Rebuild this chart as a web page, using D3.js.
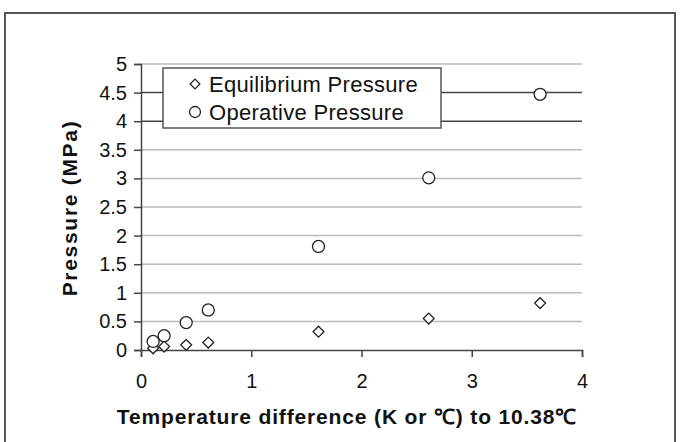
<!DOCTYPE html>
<html lang="en">
<head>
    <meta charset="UTF-8">
    <title>pressure scatter</title>
    <script src="https://d3js.org/d3.v7.min.js"></script>
    <style>
        body{ margin:0; background:#fff; }
        text{ font-family: "Liberation Sans", Arial, sans-serif; fill:#111; }
    </style>
</head>
<body>
<svg width="680" height="442" id="main"></svg>

<script>
    // temperature difference to 10.38 C
    let temp_diff = [0.11, 0.21, 0.41, 0.61, 1.61, 2.61, 3.62]
    let equilibrium = [0.03, 0.06, 0.09, 0.13, 0.32, 0.55, 0.82]
    let operative = [0.15, 0.25, 0.48, 0.70, 1.81, 3.01, 4.47]
    let series_names = ["Equilibrium Pressure", "Operative Pressure"]
    let x_ticks = [0, 1, 2, 3, 4]
    let y_ticks = [0, 0.5, 1, 1.5, 2, 2.5, 3, 3.5, 4, 4.5, 5]

    let svg = d3.select("#main")

    // outer frame, open at the bottom
    svg.append("path")
        .attr("d", "M5,445 L5,13 L675,13 L675,445")
        .attr("fill", "none")
        .attr("stroke", "#555")
        .attr("stroke-width", 2)

    let x = d3.scaleLinear().domain([0, 4]).range([141, 582])
    let y = d3.scaleLinear().domain([0, 5]).range([350, 64])

    // grid
    svg.append("g")
        .selectAll("line")
        .data(y_ticks.filter(d => d > 0))
        .join("line")
        .attr("x1", x(0)).attr("x2", x(4))
        .attr("y1", d => y(d)).attr("y2", d => y(d))
        .attr("stroke", d => (d === 4 || d === 4.5) ? "#444" : "#bbb")
        .attr("stroke-width", 1.5)

    let yAxis = svg.append("g")
        .attr("transform", `translate(${x(0)},0)`)
        .call(d3.axisLeft(y).tickValues(y_ticks).tickSize(7).tickPadding(7).tickFormat(d3.format("")))
    let xAxis = svg.append("g")
        .attr("transform", `translate(0,${y(0)})`)
        .call(d3.axisBottom(x).tickValues(x_ticks).tickSize(7).tickPadding(17).tickFormat(d3.format("")))

    for (let ax of [yAxis, xAxis]) {
        ax.attr("font-size", 20).attr("font-family", "'Liberation Sans', Arial, sans-serif")
        ax.select(".domain").attr("stroke", "#444").attr("stroke-width", 1.5)
        ax.selectAll(".tick line").attr("stroke", "#444").attr("stroke-width", 1.5)
        ax.selectAll("text").attr("fill", "#111")
    }

    let diamond = d3.symbol().type(d3.symbolDiamond2).size(75)

    svg.append("g").selectAll("path")
        .data(temp_diff.map((t, i) => [t, equilibrium[i]]))
        .join("path")
        .attr("d", diamond)
        .attr("transform", d => `translate(${x(d[0])},${y(d[1])})`)
        .attr("fill", "#fff").attr("stroke", "#222").attr("stroke-width", 1.3)

    svg.append("g").selectAll("circle")
        .data(temp_diff.map((t, i) => [t, operative[i]]))
        .join("circle")
        .attr("cx", d => x(d[0])).attr("cy", d => y(d[1]))
        .attr("r", 6)
        .attr("fill", "#fff").attr("stroke", "#222").attr("stroke-width", 1.3)

    // legend
    let legend = svg.append("g")
    legend.append("rect")
        .attr("x", 163).attr("y", 68).attr("width", 278).attr("height", 60)
        .attr("fill", "#fff").attr("stroke", "#555").attr("stroke-width", 1.5)
    series_names.forEach(function (name, i) {
        let ly = 84 + i * 28
        if (i === 0) {
            legend.append("path").attr("d", d3.symbol().type(d3.symbolDiamond2).size(60))
                .attr("transform", `translate(195,${ly})`)
                .attr("fill", "#fff").attr("stroke", "#222").attr("stroke-width", 1.3)
        } else {
            legend.append("circle").attr("cx", 195).attr("cy", ly).attr("r", 5.5)
                .attr("fill", "#fff").attr("stroke", "#222").attr("stroke-width", 1.3)
        }
        legend.append("text").attr("x", 209).attr("y", ly).attr("dy", "0.36em")
            .attr("font-size", 22).attr("letter-spacing", 0.3).text(name)
    })

    svg.append("text")
        .attr("x", 347).attr("y", 424)
        .attr("text-anchor", "middle")
        .attr("font-size", 21).attr("font-weight", "bold")
        .attr("letter-spacing", 0.85)
        .text("Temperature difference (K or ℃) to 10.38℃")

    svg.append("text")
        .attr("transform", "translate(77,208) rotate(-90)")
        .attr("text-anchor", "middle")
        .attr("font-size", 21).attr("font-weight", "bold")
        .attr("letter-spacing", 1.7)
        .text("Pressure (MPa)")
</script>
</body>
</html>
